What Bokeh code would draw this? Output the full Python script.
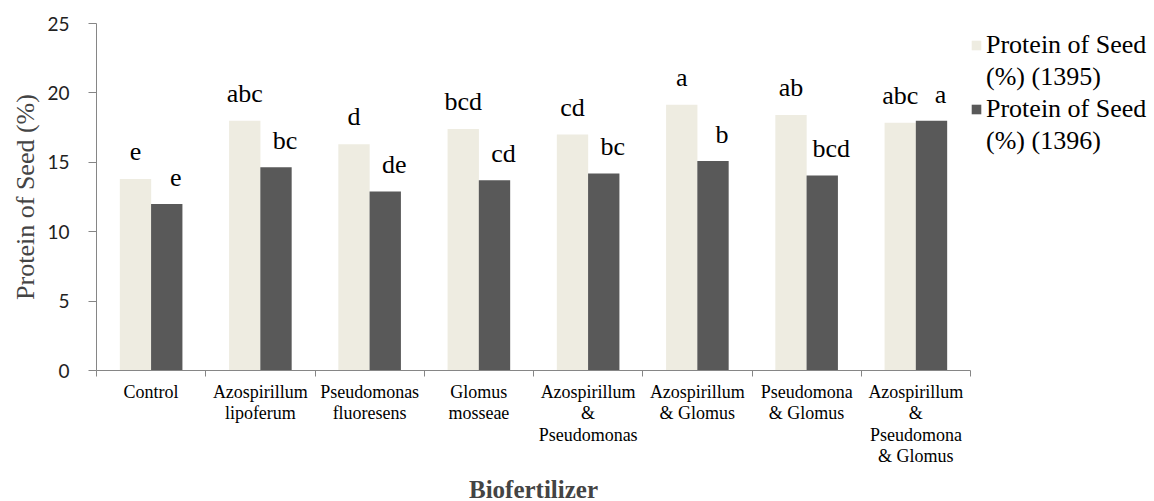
import numpy as np
from bokeh.plotting import figure
from bokeh.models import Range1d, FixedTicker, Legend, LegendItem, LabelSet, ColumnDataSource
from bokeh.core.properties import value
from bokeh.embed import file_html
from bokeh.resources import INLINE

categories = [
    "Control",
    "Azospirillum\nlipoferum",
    "Pseudomonas\nfluoresens",
    "Glomus\nmosseae",
    "Azospirillum\n&\nPseudomonas",
    "Azospirillum\n& Glomus",
    "Pseudomona\n& Glomus",
    "Azospirillum\n&\nPseudomona\n& Glomus",
]
protein_1395 = [13.8, 18.0, 16.3, 17.4, 17.0, 19.15, 18.4, 17.85]
protein_1396 = [12.0, 14.65, 12.9, 13.7, 14.2, 15.1, 14.05, 18.0]
letters_1395 = ["e", "abc", "d", "bcd", "cd", "a", "ab", "abc"]
letters_1396 = ["e", "bc", "de", "cd", "bc", "b", "bcd", "a"]
y_ticks = [0, 5, 10, 15, 20, 25]
legend_lines_1395 = ["Protein of Seed", "(%) (1395)"]
legend_lines_1396 = ["Protein of Seed", "(%) (1396)"]

LIGHT = "#EEECE1"
DARK = "#595959"
AXIS = "#868686"
SERIF = "Liberation Serif"

n = len(categories)
centers = np.arange(n) + 0.5
off = 0.143
bw = 0.287

src = ColumnDataSource(dict(
    x1=centers - off, x2=centers + off,
    y1=protein_1395, y2=protein_1396,
    t1=letters_1395, t2=letters_1396,
))

p = figure(frame_width=874, frame_height=347, output_backend="svg", toolbar_location=None,
           x_range=Range1d(0, n), y_range=Range1d(0, 25),
           min_border_left=96, min_border_top=23, min_border_right=0, min_border_bottom=0)
p.outline_line_color = None
p.xgrid.visible = False
p.ygrid.visible = False
p.background_fill_color = "white"
p.border_fill_color = "white"

r1 = p.vbar(x="x1", top="y1", width=bw, source=src, fill_color=LIGHT, line_color=None)
r2 = p.vbar(x="x2", top="y2", width=bw, source=src, fill_color=DARK, line_color=None)
blank = p.scatter(x=[], y=[], marker="square", fill_alpha=0, line_alpha=0)

p.add_layout(LabelSet(x="x1", y="y1", text="t1", source=src, y_offset=19,
                      text_align="center", text_baseline="alphabetic",
                      text_font=value(SERIF), text_font_size="26px", text_color="black"))
p.add_layout(LabelSet(x="x2", y="y2", text="t2", source=src, y_offset=18, x_offset=9,
                      text_align="center", text_baseline="alphabetic",
                      text_font=value(SERIF), text_font_size="26px", text_color="black"))

# y axis
ya = p.yaxis[0]
ya.ticker = FixedTicker(ticks=y_ticks, minor_ticks=[])
ya.axis_line_color = AXIS
ya.major_tick_line_color = AXIS
ya.major_tick_out = 8
ya.major_tick_in = 0
ya.minor_tick_out = 0
ya.minor_tick_in = 0
ya.major_label_text_font = "Lato"
ya.major_label_text_font_size = "19px"
ya.major_label_text_color = "#222222"
ya.major_label_standoff = 19
ya.axis_label = "Protein of Seed (%)"
ya.axis_label_text_font = SERIF
ya.axis_label_text_font_style = "normal"
ya.axis_label_text_font_size = "26px"
ya.axis_label_standoff = 4

# x axis: labels at centers, ticks at boundaries
xa = p.xaxis[0]
xa.ticker = FixedTicker(ticks=list(centers), minor_ticks=list(range(n + 1)))
xa.major_label_overrides = {float(c): lab for c, lab in zip(centers, categories)}
xa.axis_line_color = AXIS
xa.major_tick_out = 0
xa.major_tick_in = 0
xa.minor_tick_line_color = AXIS
xa.minor_tick_out = 6
xa.minor_tick_in = 0
xa.major_label_text_font = SERIF
xa.major_label_text_font_size = "18px"
xa.major_label_text_line_height = 1.08
xa.major_label_text_color = "black"
xa.major_label_standoff = 5
xa.axis_label = "Biofertilizer"
xa.axis_label_text_font = SERIF
xa.axis_label_text_font_style = "bold"
xa.axis_label_text_font_size = "25px"
xa.axis_label_standoff = 7

legend = Legend(items=[
    LegendItem(label=legend_lines_1395[0], renderers=[r1]),
    LegendItem(label=legend_lines_1395[1], renderers=[blank]),
    LegendItem(label=legend_lines_1396[0], renderers=[r2]),
    LegendItem(label=legend_lines_1396[1], renderers=[blank]),
], location="top_left")
legend.title = "\u00a0"
legend.title_text_font_size = "5px"
legend.title_standoff = 0
legend.border_line_color = None
legend.background_fill_alpha = 0
legend.padding = 0
legend.margin = 0
legend.spacing = 0
legend.glyph_width = 12
legend.glyph_height = 12
legend.label_standoff = 4
legend.label_text_font = SERIF
legend.label_text_font_size = "26px"
legend.label_height = 32
legend.label_text_color = "black"
p.add_layout(legend, "right")

open("out.html", "w").write(file_html(p, INLINE))
